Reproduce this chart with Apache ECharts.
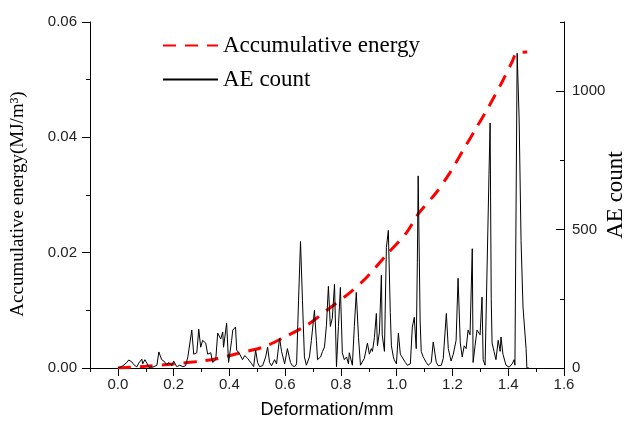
<!DOCTYPE html>
<html>
<head>
<meta charset="utf-8">
<title>Accumulative energy and AE count</title>
<script src="https://cdn.jsdelivr.net/npm/echarts@6/dist/echarts.min.js"></script>
<style>
  html,body{margin:0;padding:0;background:#fff;}
  #main{width:635px;height:425px;}
</style>
</head>
<body>
<div id="main"></div>
<script>
// accumulative energy curve (MJ/m3)
var energyDeform = [0, 0.1, 0.2, 0.3, 0.354, 0.437, 0.52, 0.6, 0.68, 0.76, 0.83, 0.89, 0.963, 1.034, 1.08, 1.14, 1.19, 1.235, 1.285, 1.33, 1.378, 1.414, 1.43, 1.468];
var energyValue  = [0, 0.0003, 0.0007, 0.0012, 0.0016, 0.0026, 0.0036, 0.0054, 0.0075, 0.0104, 0.013, 0.0156, 0.0196, 0.0234, 0.0269, 0.0303, 0.0338, 0.0375, 0.0416, 0.0453, 0.0496, 0.0531, 0.0546, 0.0548];

// AE count, vertices of the black line
var aeDeform = [0, 0.007, 0.018, 0.025, 0.032, 0.039, 0.050, 0.057, 0.068, 0.075, 0.086, 0.089, 0.097, 0.104, 0.111, 0.118, 0.125, 0.132, 0.140, 0.147,
  0.157, 0.165, 0.175, 0.183, 0.193, 0.200, 0.211, 0.222, 0.233, 0.243, 0.251, 0.265, 0.272, 0.283, 0.290, 0.297, 0.304, 0.315, 0.322, 0.333,
  0.340, 0.351, 0.358, 0.369, 0.376, 0.379, 0.390, 0.397, 0.408, 0.412, 0.422, 0.426, 0.437, 0.447, 0.455, 0.465, 0.480, 0.487, 0.494, 0.501,
  0.508, 0.519, 0.530, 0.537, 0.544, 0.551, 0.562, 0.569, 0.580, 0.587, 0.598, 0.608, 0.619, 0.626, 0.634, 0.641, 0.648, 0.655, 0.662, 0.669,
  0.676, 0.687, 0.694, 0.705, 0.712, 0.716, 0.727, 0.734, 0.741, 0.748, 0.755, 0.762, 0.769, 0.777, 0.784, 0.791, 0.798, 0.805, 0.812, 0.820,
  0.827, 0.830, 0.841, 0.848, 0.855, 0.863, 0.870, 0.873, 0.884, 0.895, 0.902, 0.909, 0.913, 0.920, 0.927, 0.931, 0.938, 0.945, 0.948, 0.956,
  0.963, 0.970, 0.977, 0.981, 0.988, 0.991, 0.999, 1.006, 1.013, 1.020, 1.031, 1.038, 1.049, 1.056, 1.063, 1.070, 1.074, 1.077, 1.084, 1.088,
  1.095, 1.106, 1.113, 1.124, 1.131, 1.142, 1.149, 1.160, 1.167, 1.170, 1.178, 1.185, 1.195, 1.203, 1.213, 1.220, 1.228, 1.235, 1.242, 1.249,
  1.256, 1.263, 1.271, 1.274, 1.281, 1.288, 1.299, 1.306, 1.310, 1.317, 1.324, 1.331, 1.335, 1.339, 1.342, 1.349, 1.356, 1.364, 1.371, 1.374,
  1.381, 1.392, 1.403, 1.414, 1.421, 1.424, 1.432, 1.439, 1.446, 1.453, 1.464, 1.467, 1.475];
var aeCount = [0, 5, 8, 15, 20, 29, 22, 12, 4, 18, 32, 15, 30, 18, 3, 5, 3, 8, 10, 58,
  30, 25, 12, 20, 8, 25, 5, 10, 5, 8, 40, 137, 50, 55, 140, 75, 100, 90, 50, 55,
  20, 30, 126, 105, 130, 75, 162, 20, 100, 137, 148, 65, 50, 30, 45, 35, 15, 5, 65, 20,
  5, 8, 40, 76, 20, 8, 30, 15, 108, 60, 15, 70, 20, 8, 5, 15, 245, 457, 245, 40,
  10, 40, 100, 208, 100, 30, 40, 60, 76, 155, 295, 150, 180, 302, 5, 150, 291, 55, 30, 40,
  15, 55, 10, 150, 273, 110, 10, 5, 35, 90, 50, 70, 60, 110, 197, 80, 130, 335, 120, 60,
  435, 497, 200, 80, 40, 30, 15, 126, 50, 45, 20, 10, 15, 148, 183, 70, 380, 694, 170, 60,
  40, 20, 10, 20, 94, 20, 8, 10, 35, 80, 197, 70, 25, 50, 100, 324, 90, 40, 80, 70,
  137, 120, 431, 20, 80, 137, 120, 256, 30, 10, 10, 700, 885, 250, 90, 60, 30, 100, 60, 112,
  50, 10, 3, 15, 30, 10, 1137, 903, 460, 220, 70, 0, 0];

var xTicksMajor = [0, 0.2, 0.4, 0.6, 0.8, 1.0, 1.2, 1.4, 1.6];
var aeTicksMajor = [0, 500, 1000];

function zip(a, b) {
  var out = [];
  for (var i = 0; i < a.length; i++) out.push([a[i], b[i]]);
  return out;
}

var sans = 'Liberation Sans';
var serif = 'Liberation Serif';

var myChart = echarts.init(document.getElementById('main'));
var option = {
  animation: false,
  grid: {left: 90, right: 71, top: 22, bottom: 57, containLabel: false, outerBoundsMode: 'none'},
  legend: {
    orient: 'vertical',
    left: 157,
    top: 29,
    itemWidth: 55,
    itemHeight: 20,
    itemGap: 11,
    itemStyle: {opacity: 0, borderWidth: 0},
    textStyle: {fontFamily: serif, fontSize: 23, color: '#000'},
    data: ['Accumulative energy', 'AE count']
  },
  xAxis: [{
    type: 'value',
    min: -0.1, max: 1.6, interval: 0.1,
    name: 'Deformation/mm',
    nameLocation: 'middle',
    nameGap: 33,
    nameTextStyle: {fontFamily: sans, fontSize: 18, color: '#000'},
    axisLine: {onZero: false, lineStyle: {color: '#000', width: 1}},
    axisTick: {length: 4, lineStyle: {color: '#000'}},
    axisLabel: {
      margin: 9, fontFamily: sans, fontSize: 15, color: '#222',
      formatter: function (v) {
        var k = Math.round(v * 10);
        return (k % 2 === 0 && k >= 0) ? (k / 10).toFixed(1) : '';
      }
    },
    splitLine: {show: false}
  }, {
    type: 'value',
    position: 'bottom',
    min: -0.1, max: 1.6,
    axisLine: {show: false, onZero: false},
    axisLabel: {show: false},
    axisTick: {length: 8, customValues: xTicksMajor, lineStyle: {color: '#000'}},
    splitLine: {show: false}
  }],
  yAxis: [{
    type: 'value',
    position: 'left',
    min: 0, max: 0.06, interval: 0.02,
    name: 'Accumulative energy(MJ/m³)',
    nameLocation: 'middle',
    nameRotate: 90,
    nameGap: 62,
    nameTextStyle: {fontFamily: serif, fontSize: 19, color: '#000', padding: [0, 18, 0, 0]},
    axisLine: {show: true, onZero: false, lineStyle: {color: '#000', width: 1}},
    axisTick: {show: true, length: 8, lineStyle: {color: '#000'}},
    minorTick: {show: true, splitNumber: 2, length: 4, lineStyle: {color: '#000'}},
    axisLabel: {
      margin: 13, fontFamily: sans, fontSize: 15, color: '#222',
      formatter: function (v) { return v.toFixed(2); }
    },
    splitLine: {show: false}
  }, {
    type: 'value',
    position: 'right',
    min: 0, max: 1250, interval: 250,
    name: 'AE count',
    nameLocation: 'middle',
    nameRotate: 90,
    nameGap: 40,
    nameMoveOverlap: false,
    nameTextStyle: {fontFamily: serif, fontSize: 23, color: '#000'},
    axisLine: {show: true, onZero: false, lineStyle: {color: '#000', width: 1}},
    axisTick: {show: true, inside: true, length: 4, lineStyle: {color: '#000'}},
    axisLabel: {
      margin: 8, fontFamily: sans, fontSize: 15, color: '#222',
      formatter: function (v) { return v % 500 === 0 ? String(v) : ''; }
    },
    splitLine: {show: false}
  }, {
    type: 'value',
    position: 'right',
    offset: 0,
    min: 0, max: 1250,
    axisLine: {show: false, onZero: false},
    axisLabel: {show: false},
    axisTick: {show: true, inside: true, length: 8, customValues: aeTicksMajor, lineStyle: {color: '#000'}},
    splitLine: {show: false}
  }],
  series: [{
    name: 'Accumulative energy',
    type: 'line',
    yAxisIndex: 0,
    showSymbol: false,
    symbol: 'none',
    smooth: 0.3,
    lineStyle: {color: '#ff0000', width: 3, type: [13, 9]},
    itemStyle: {color: '#ff0000'},
    data: zip(energyDeform, energyValue)
  }, {
    name: 'AE count',
    type: 'line',
    yAxisIndex: 1,
    showSymbol: false,
    symbol: 'none',
    lineStyle: {color: '#000', width: 1},
    itemStyle: {color: '#000'},
    data: zip(aeDeform, aeCount)
  }]
};
myChart.setOption(option);
</script>
</body>
</html>
